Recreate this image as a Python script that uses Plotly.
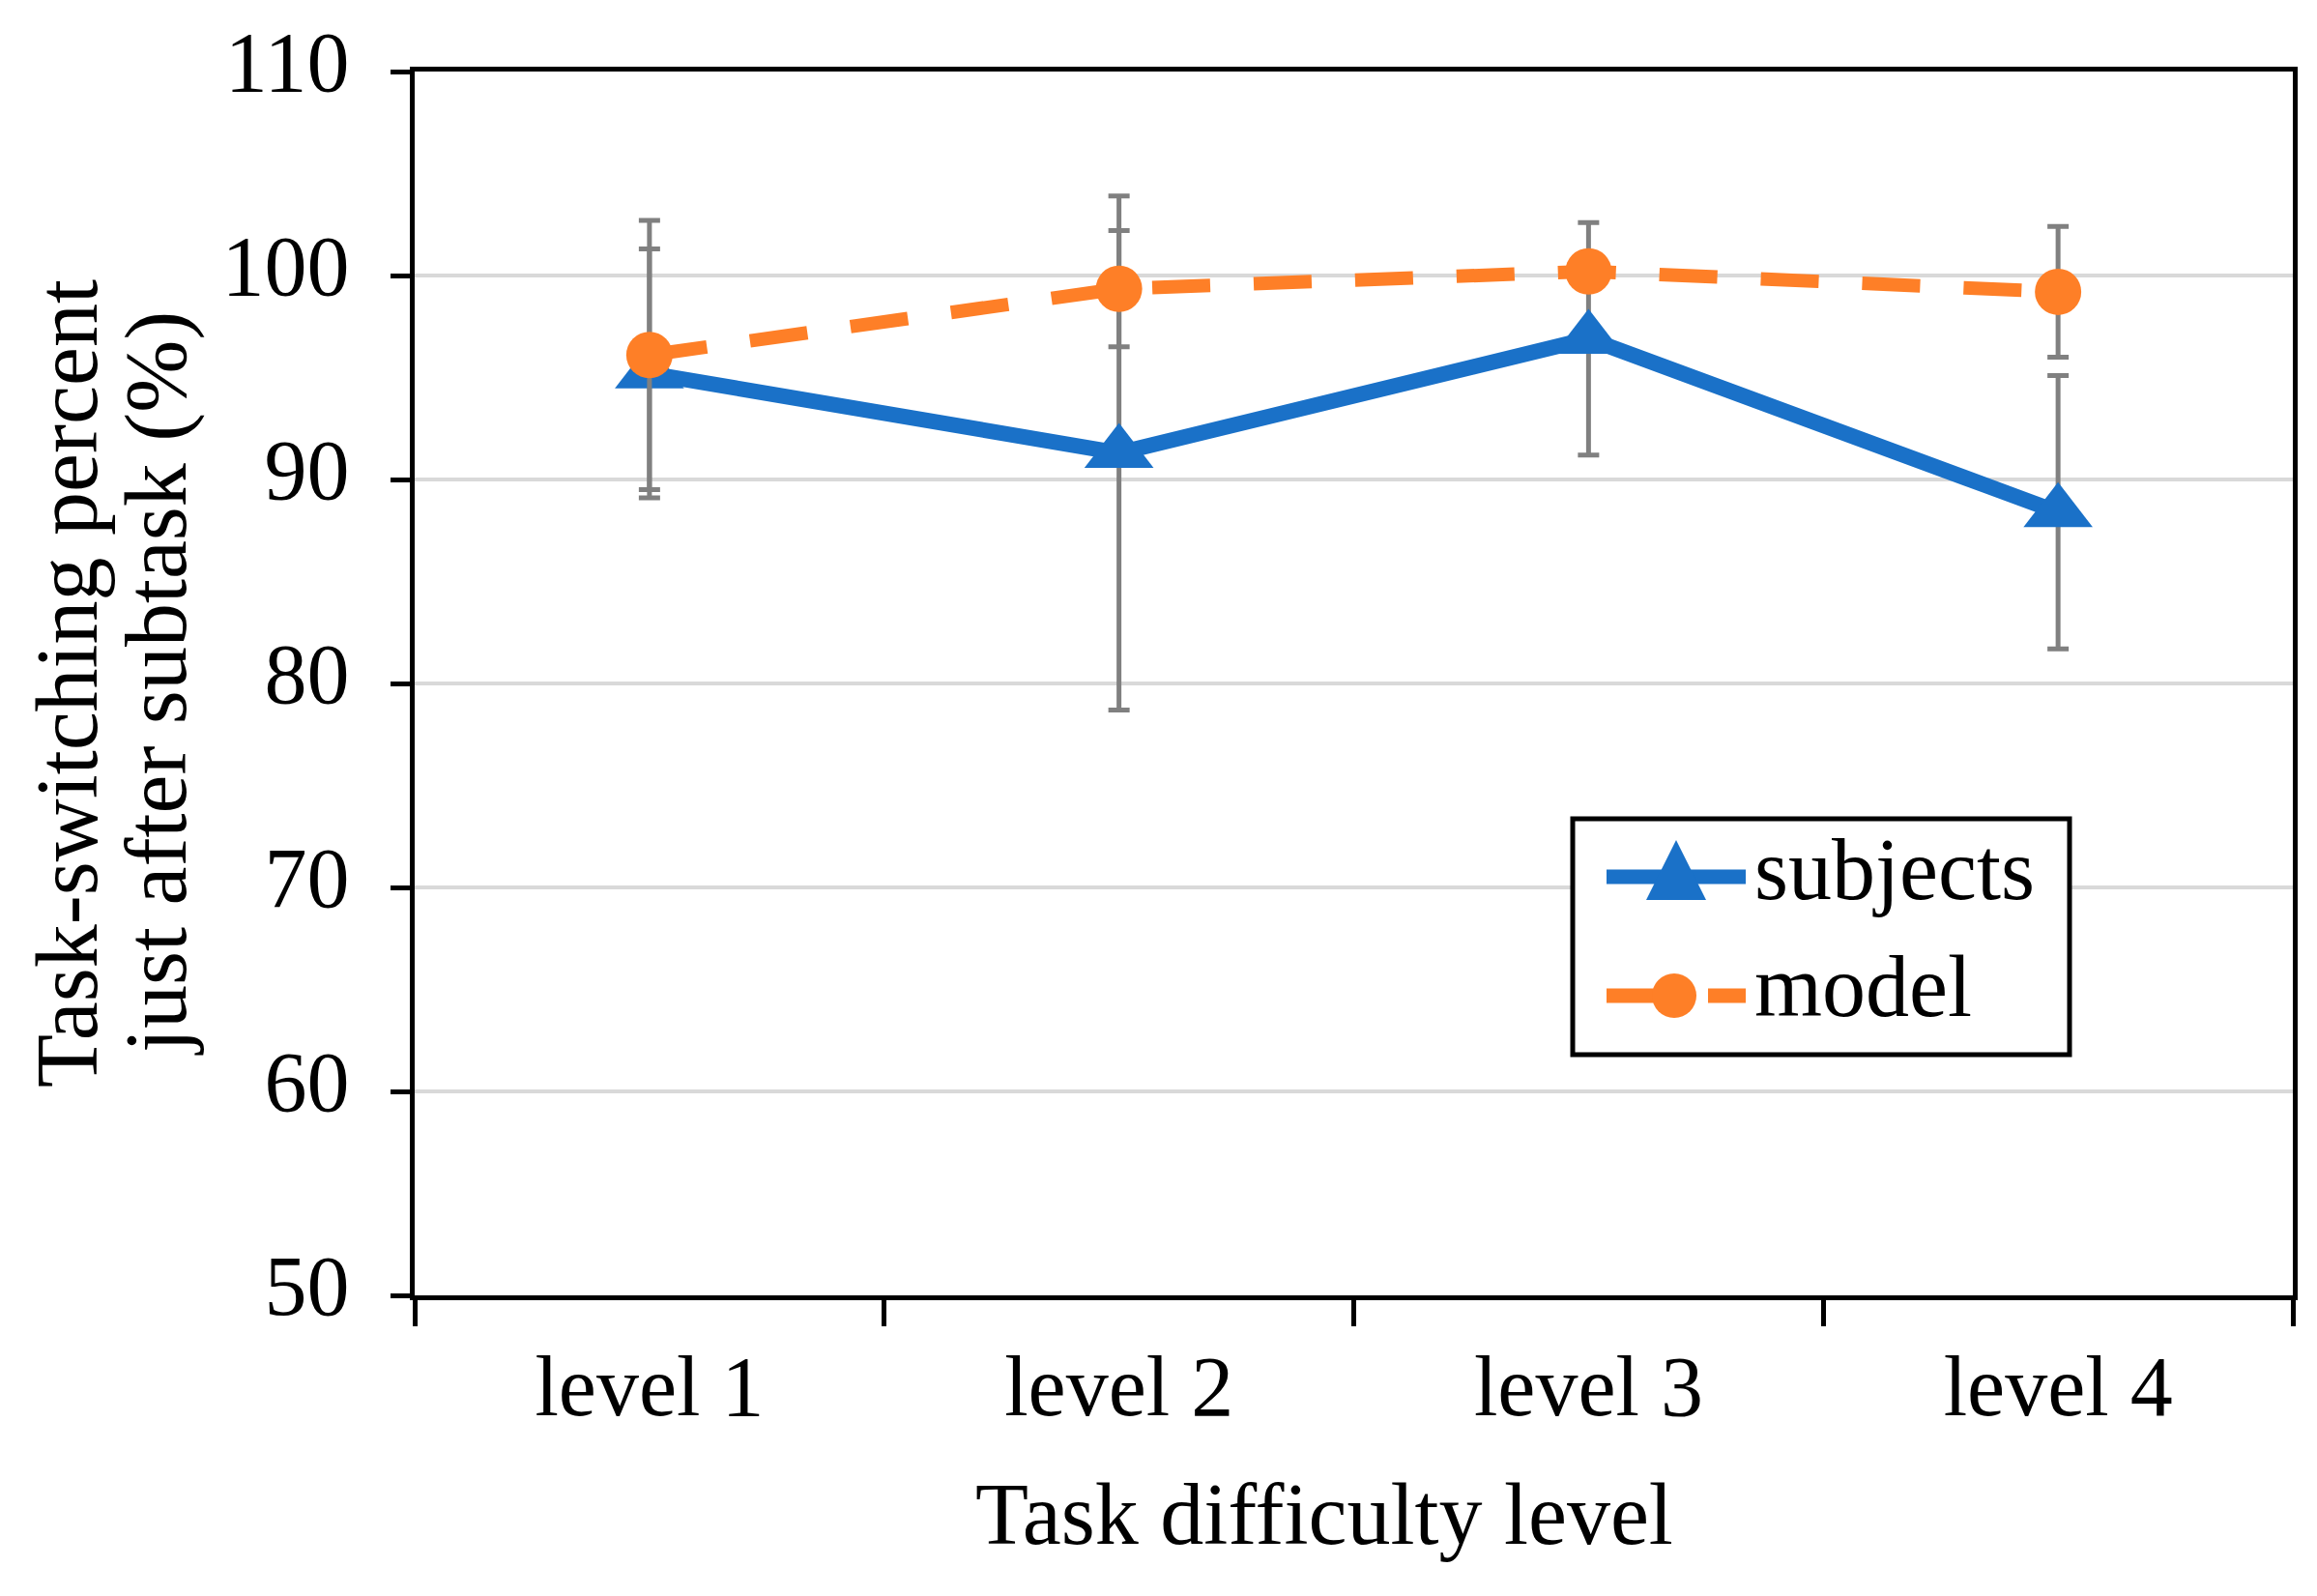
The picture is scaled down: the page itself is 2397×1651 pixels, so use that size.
import plotly.graph_objects as go

levels = ["level 1", "level 2", "level 3", "level 4"]
subjects = [95.2, 91.3, 96.9, 88.4]
subjects_err = [6.1, 12.6, 5.7, 6.7]
model = [96.1, 99.35, 100.2, 99.2]
model_err = [6.6, 2.85, 0.0, 3.2]
y_ticks = [50, 60, 70, 80, 90, 100, 110]
series_names = ["subjects", "model"]

# page is 2397x1651; browser body adds an 8px margin, so the figure is
# made 8px smaller and all page-pixel targets are shifted by that offset
OFF = 8
W, H = 2397 - OFF, 1651 - OFF
L, R, T, B = 429 - OFF, 25, 74 - OFF, 311
FONT = "Liberation Serif, Times New Roman, serif"
BLUE = "#1A71C8"
ORANGE = "#FE7F27"
GREY = "#808080"

pw = W - L - R
ph = H - T - B


def px(x):
    """page x pixel -> paper coordinate"""
    return (x - OFF - L) / pw


def py(y):
    """page y pixel -> paper coordinate"""
    return (H - B - (y - OFF)) / ph


fig = go.Figure()
fig.add_trace(go.Scatter(
    x=levels, y=subjects, name=series_names[0], mode="lines+markers",
    line=dict(color=BLUE, width=16),
    marker=dict(symbol="triangle-up", size=62, color=BLUE),
    error_y=dict(type="data", array=subjects_err, visible=True,
                 color=GREY, thickness=5, width=11),
    showlegend=False,
))
fig.add_trace(go.Scatter(
    x=levels, y=model, name=series_names[1], mode="lines+markers",
    line=dict(color=ORANGE, width=14, dash="60px,45px"),
    marker=dict(symbol="circle", size=48, color=ORANGE),
    error_y=dict(type="data", array=model_err, visible=True,
                 color=GREY, thickness=5, width=11),
    showlegend=False,
))

# legend (drawn as a boxed key, like the original)
shapes = [
    dict(type="rect", xref="paper", yref="paper",
         x0=px(1627), x1=px(2141), y0=py(1091), y1=py(847),
         line=dict(color="black", width=5), fillcolor="white", layer="above"),
    dict(type="line", xref="paper", yref="paper",
         x0=px(1662), x1=px(1806), y0=py(907), y1=py(907),
         line=dict(color=BLUE, width=15), layer="above"),
    dict(type="path", xref="paper", yref="paper",
         path=f"M{px(1703)},{py(931)} L{px(1765)},{py(931)} L{px(1734)},{py(869)} Z",
         fillcolor=BLUE, line=dict(color=BLUE, width=0), layer="above"),
    dict(type="line", xref="paper", yref="paper",
         x0=px(1662), x1=px(1712), y0=py(1030), y1=py(1030),
         line=dict(color=ORANGE, width=15), layer="above"),
    dict(type="line", xref="paper", yref="paper",
         x0=px(1767), x1=px(1806), y0=py(1030), y1=py(1030),
         line=dict(color=ORANGE, width=15), layer="above"),
    dict(type="circle", xref="paper", yref="paper",
         x0=px(1709), x1=px(1755), y0=py(1053), y1=py(1007),
         fillcolor=ORANGE, line=dict(color=ORANGE, width=0), layer="above"),
]

annotations = [
    dict(text=series_names[0], xref="paper", yref="paper",
         x=px(1813), y=py(899), xanchor="left", yanchor="middle",
         showarrow=False, font=dict(family=FONT, size=90, color="black")),
    dict(text=series_names[1], xref="paper", yref="paper",
         x=px(1813), y=py(1020), xanchor="left", yanchor="middle",
         showarrow=False, font=dict(family=FONT, size=90, color="black")),
    dict(text="Task difficulty level", xref="paper", yref="paper",
         x=px(1370), y=py(1566),
         xanchor="center", yanchor="middle", showarrow=False,
         font=dict(family=FONT, size=90, color="black")),
    dict(text="Task-switching percent", xref="paper", yref="paper",
         x=px(69), y=py(707), textangle=-90,
         xanchor="center", yanchor="middle", showarrow=False,
         font=dict(family=FONT, size=90, color="black")),
    dict(text="just after subtask (%)", xref="paper", yref="paper",
         x=px(162), y=py(707), textangle=-90,
         xanchor="center", yanchor="middle", showarrow=False,
         font=dict(family=FONT, size=90, color="black")),
]

fig.update_layout(
    width=W, height=H,
    margin=dict(l=L, r=R, t=T, b=B, autoexpand=False),
    paper_bgcolor="white", plot_bgcolor="white",
    font=dict(family=FONT, size=88, color="black"),
    showlegend=False,
    xaxis=dict(
        type="category", range=[-0.5, 3.5], tickson="boundaries",
        ticks="outside", ticklen=27, tickwidth=5, tickcolor="black",
        showline=True, linewidth=5, linecolor="black", mirror=True,
        showgrid=False, zeroline=False,
        tickfont=dict(family=FONT, size=88, color="black"),
        ticklabelstandoff=13,
    ),
    yaxis=dict(
        range=[50, 110], tickvals=y_ticks,
        ticks="outside", ticklen=20, tickwidth=5, tickcolor="black",
        showline=True, linewidth=5, linecolor="black", mirror=True,
        showgrid=True, gridcolor="#D9D9D9", gridwidth=4, zeroline=False,
        tickfont=dict(family=FONT, size=88, color="black"),
        ticklabelstandoff=25, ticklabelshift=-11,
    ),
    shapes=shapes,
    annotations=annotations,
)

fig.write_html("out.html")
